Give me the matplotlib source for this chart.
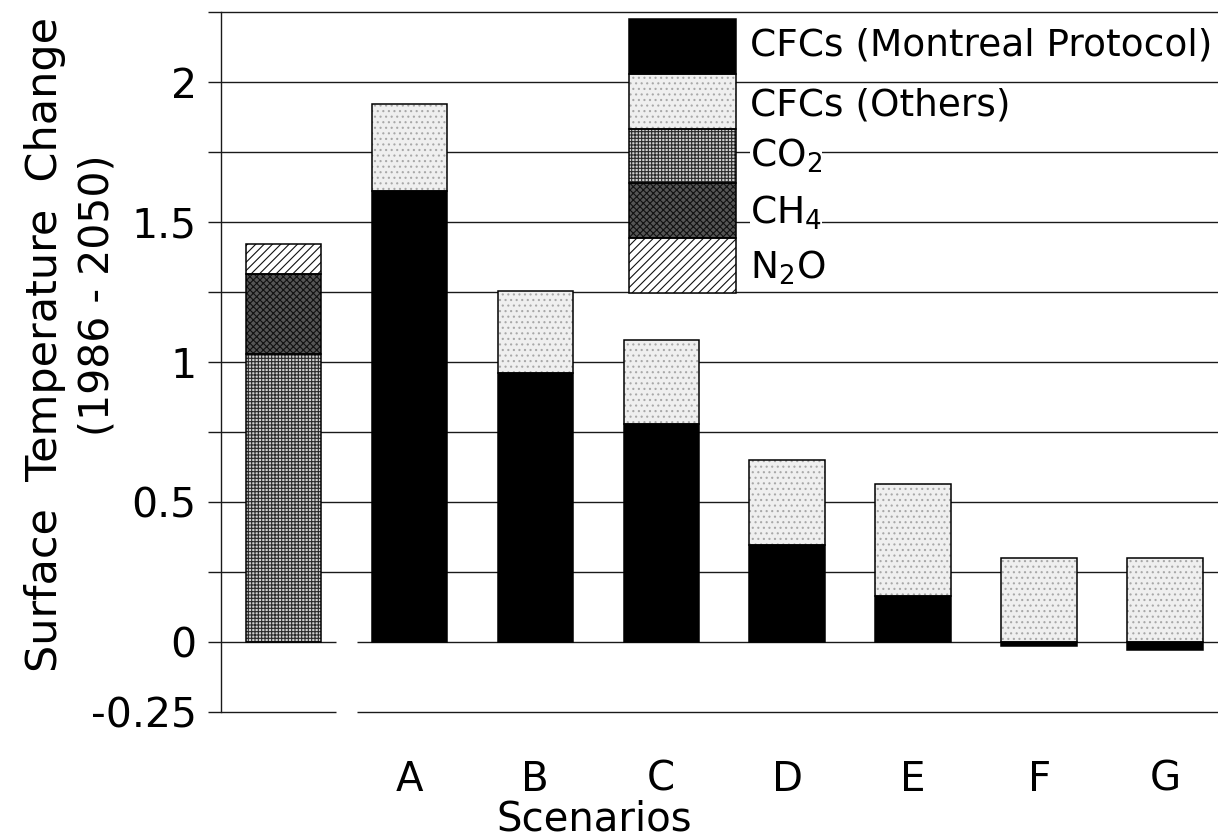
import numpy as np
import matplotlib
matplotlib.use("Agg")
import matplotlib.pyplot as plt
from matplotlib.patches import Rectangle

# ---------------- data ----------------
scenarios = ["A", "B", "C", "D", "E", "F", "G"]
# reference (first, unlabeled) bar: contributions by gas
base_co2 = 1.03
base_ch4 = 0.285
base_n2o = 0.105
# scenario bars
cfc_montreal = [1.61, 0.96, 0.78, 0.345, 0.165, -0.015, -0.03]
cfc_others = [0.31, 0.295, 0.30, 0.305, 0.40, 0.30, 0.30]

ytick_values = [-0.25, 0.0, 0.25, 0.5, 0.75, 1.0, 1.25, 1.5, 1.75, 2.0, 2.25]
ytick_labels = ["-0.25", "0", "", "0.5", "", "1", "", "1.5", "", "2", ""]

legend_labels = ["CFCs (Montreal Protocol)", "CFCs (Others)", r"CO$_2$", r"CH$_4$", r"N$_2$O"]

# ---------------- style ----------------
plt.rcParams["font.family"] = ["DejaVu Sans"]
plt.rcParams["mathtext.default"] = "regular"
plt.rcParams["hatch.linewidth"] = 0.8

W, H = 1218, 840
fig = plt.figure(figsize=(W / 100, H / 100), dpi=100)

def fx(px):
    return px / W

def fy(py):
    return 1 - py / H

ax_left, ax_top, ax_bottom = 221, 12, 712
ax = fig.add_axes([fx(ax_left), fy(ax_bottom), 1 - fx(ax_left), (ax_bottom - ax_top) / H])

styles = {
    "montreal": dict(face="black", hatch=None, hcol="black"),
    "others": dict(face="#efefef", hatch="...", hcol="#a8a8a8"),
    "co2": dict(face="#cfcfcf", hatch="+++++", hcol="#2a2a2a"),
    "ch4": dict(face="#555555", hatch="xxxxx", hcol="#111111"),
    "n2o": dict(face="white", hatch="////", hcol="#111111"),
}

bw = 0.60

def seg(x, h, bottom, key):
    st = styles[key]
    ax.bar(x, h, bw, bottom=bottom, color=st["face"], hatch=st["hatch"],
           edgecolor=st["hcol"], linewidth=0, zorder=2)
    ax.bar(x, h, bw, bottom=bottom, fill=False, edgecolor="black",
           linewidth=1.1, zorder=3)

# reference bar
seg(0, base_co2, 0, "co2")
seg(0, base_ch4, base_co2, "ch4")
seg(0, base_n2o, base_co2 + base_ch4, "n2o")

xs = np.arange(1, len(scenarios) + 1)
for x, m, o in zip(xs, cfc_montreal, cfc_others):
    seg(x, m, 0, "montreal")
    seg(x, o, max(m, 0), "others")

# axes limits
xl, xr = -0.496, 7.42
ax.set_xlim(xl, xr)
ax.set_ylim(-0.25, 2.25)

# grid lines (gap between reference bar and scenarios on the two lowest lines)
gap_c = 0.5 * (0 + xs[0])
for v in ytick_values:
    if v <= 0:
        ax.hlines(v, xl, gap_c - 0.08, color="#1a1a1a", lw=1.0, zorder=0.5, clip_on=False)
        ax.hlines(v, gap_c + 0.08, xr, color="#1a1a1a", lw=1.0, zorder=0.5, clip_on=False)
    else:
        ax.hlines(v, xl, xr, color="#1a1a1a", lw=1.0, zorder=0.5, clip_on=False)

for s in ["top", "right", "bottom"]:
    ax.spines[s].set_visible(False)
ax.spines["left"].set_linewidth(1.0)
ax.spines["left"].set_color("#1a1a1a")

ax.set_yticks(ytick_values)
ax.set_yticklabels(ytick_labels)
ax.tick_params(axis="y", length=9.4, width=1.0, pad=8, labelsize=29.5, color="#1a1a1a")
ax.set_xticks(xs)
ax.set_xticklabels(scenarios)
ax.tick_params(axis="x", length=0, pad=34.5, labelsize=29)

# axis titles
fig.text(fx(594), fy(839.5), "Scenarios", ha="center", va="bottom", fontsize=29)
fig.text(fx(45), fy(345), "Surface  Temperature  Change", rotation=90,
         ha="center", va="center", fontsize=31)
fig.text(fx(97), fy(295), "(1986 - 2050)", rotation=90,
         ha="center", va="center", fontsize=29.5)

# legend drawn as a stacked column of swatches
leg_x0, leg_x1 = 629, 736
leg_y0, leg_y1 = 19, 293
keys = ["montreal", "others", "co2", "ch4", "n2o"]
n = len(keys)
step = (leg_y1 - leg_y0) / n
label_dy = [-1, 4, 0, 2, 2]
for i, (k, lab) in enumerate(zip(keys, legend_labels)):
    st = styles[k]
    top = leg_y0 + i * step
    r1 = Rectangle((fx(leg_x0), fy(top + step)), fx(leg_x1 - leg_x0), step / H,
                   transform=fig.transFigure, facecolor=st["face"], hatch=st["hatch"],
                   edgecolor=st["hcol"], linewidth=0, zorder=4)
    r2 = Rectangle((fx(leg_x0), fy(top + step)), fx(leg_x1 - leg_x0), step / H,
                   transform=fig.transFigure, fill=False, edgecolor="black",
                   linewidth=1.1, zorder=5)
    fig.add_artist(r1)
    fig.add_artist(r2)
    t = fig.text(fx(750), fy(top + step / 2 + label_dy[i]), lab, ha="left", va="center",
                 fontsize=27, zorder=6)
    if k in ("co2", "ch4"):
        t.set_bbox(dict(facecolor="white", edgecolor="none", pad=0))

fig.savefig("out.png", dpi=100, facecolor="white")
